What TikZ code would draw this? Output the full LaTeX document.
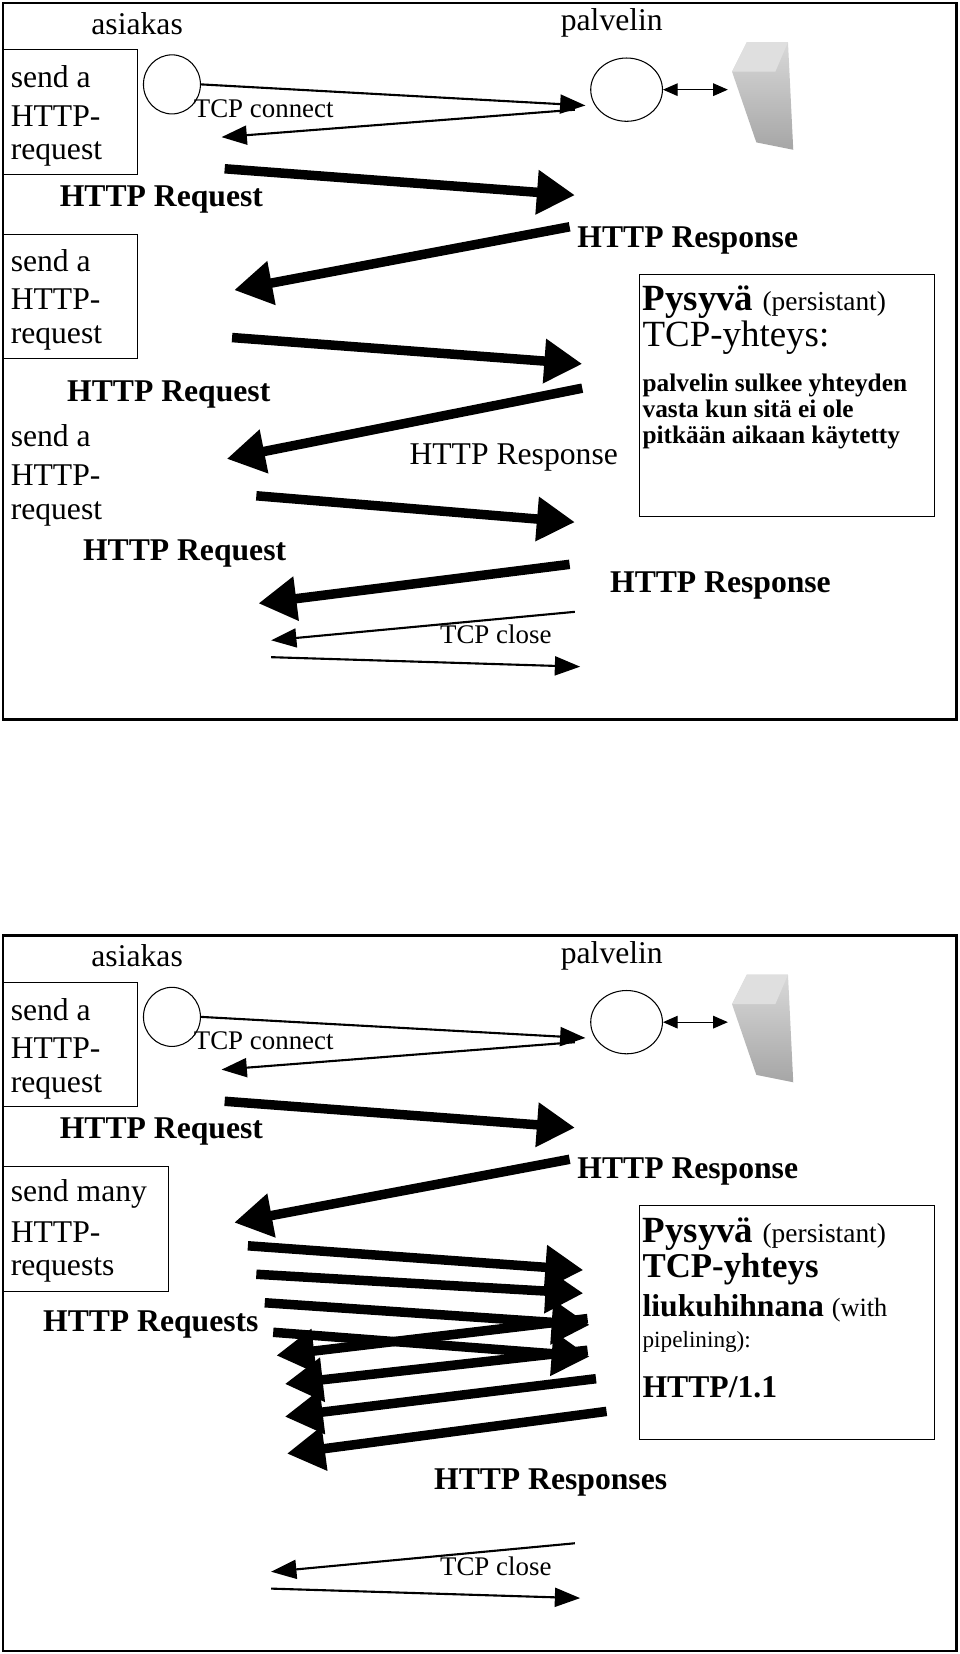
\documentclass[tikz,border=0pt]{standalone}
\usepackage{fontspec}
\setmainfont{Liberation Serif}
\usetikzlibrary{arrows.meta,shapes.geometric}
\begin{document}
\begin{tikzpicture}[x=1pt,y=-1pt,
  frame/.style={line width=2.5pt},
  thk/.style={line width=9pt,-{Triangle[length=36pt,width=40pt]}},
  thn/.style={line width=2pt,-{Triangle[length=24pt,width=18pt]}},
  lbl/.style={font=\fontsize{30}{34}\selectfont,inner sep=0pt},
  blbl/.style={font=\fontsize{30}{34}\selectfont\bfseries,inner sep=0pt},
  sm/.style={font=\fontsize{25.5}{30}\selectfont,inner sep=0pt},
  ln/.style={font=\fontsize{30}{34}\selectfont,inner sep=0pt,anchor=west},
  box/.style={line width=1pt}]
\useasboundingbox (0,0) rectangle (910,1568);
\fill[white] (0,0) rectangle (910,1568);
% ===== TOP PANEL =====
\draw[frame] (3,3) rectangle (907,682);
\node[lbl] (as1) at (130,22) {asiakas};
\node[lbl] (pv1) at (580,22) {palvelin};
\node[draw,ellipse,minimum width=54pt,minimum height=56pt,line width=1pt] (c1) at (163,80) {};
\node[draw,ellipse,minimum width=68pt,minimum height=60pt,line width=1pt] (s1) at (594,85) {};
\shade[top color=gray!30,bottom color=gray!70] (694,68) -- (708,40) -- (747,40) -- (752,142) -- (717,135) -- cycle;
\fill[gray!25] (694,68) -- (708,40) -- (747,40) -- (735,68) -- cycle;
\coordinate (srv1) at (690,85);
\coordinate (in1) at (555,100);
\draw[line width=1pt,{Triangle[length=14pt,width=12pt]}-{Triangle[length=14pt,width=12pt]}] (s1.east) -- (srv1);
\draw[box] (3,47) rectangle (130,165);
\node[ln] at (10,73) {send a};
\node[ln] at (10,110) {HTTP-};
\node[ln] at (10,146) {request};
\draw[box] (3,222) rectangle (130,340);
\node[ln] at (10,247) {send a};
\node[ln] at (10,284) {HTTP-};
\node[ln] at (10,320) {request};
\node[ln] at (10,413) {send a};
\node[ln] at (10,450) {HTTP-};
\node[ln] at (10,487) {request};
\draw[thn] (c1.east) -- (in1);
\draw[thn] (545,104) -- (210,130);
\node[sm] at (250,103) {TCP connect};
\draw[thk] (213,160) -- (545,185);
\node[blbl] at (153,189) {HTTP Request};
\node[blbl] at (652,228) {HTTP Response};
\draw[thk] (540,215) -- (222,275);
\draw[box] (606,260) rectangle (886,490);
\node[anchor=west,inner sep=0pt] at (609,286) {\fontsize{35}{38}\selectfont\bfseries Pysyvä \fontsize{26}{30}\mdseries\selectfont(persistant)};
\node[anchor=west,inner sep=0pt,font=\fontsize{35}{38}\selectfont] at (609,320) {TCP-yhteys:};
\node[anchor=west,inner sep=0pt,font=\fontsize{24}{25}\selectfont\bfseries,align=left] at (609,390) {palvelin sulkee yhteyden\\vasta kun sitä ei ole\\pitkään aikaan käytetty};
\draw[thk] (220,320) -- (552,345);
\node[blbl] at (160,374) {HTTP Request};
\draw[thk] (552,368) -- (215,435);
\node[lbl] at (487,434) {HTTP Response};
\draw[thk] (243,470) -- (545,495);
\node[blbl] at (175,525) {HTTP Request};
\draw[thk] (540,535) -- (245,572);
\node[blbl] at (683,555) {HTTP Response};
\draw[thn] (545,580) -- (257,607);
\node[sm] at (470,601) {TCP close};
\draw[thn] (257,623) -- (550,632);
% ===== BOTTOM PANEL =====
\draw[frame] (3,887) rectangle (907,1565);
\node[lbl] (as2) at (130,906) {asiakas};
\node[lbl] (pv2) at (580,906) {palvelin};
\node[draw,ellipse,minimum width=54pt,minimum height=56pt,line width=1pt] (c2) at (163,964) {};
\node[draw,ellipse,minimum width=68pt,minimum height=60pt,line width=1pt] (s2) at (594,969) {};
\shade[top color=gray!30,bottom color=gray!70] (694,952) -- (708,924) -- (747,924) -- (752,1026) -- (717,1019) -- cycle;
\fill[gray!25] (694,952) -- (708,924) -- (747,924) -- (735,952) -- cycle;
\coordinate (srv2) at (690,969);
\coordinate (in2) at (555,984);
\draw[line width=1pt,{Triangle[length=14pt,width=12pt]}-{Triangle[length=14pt,width=12pt]}] (s2.east) -- (srv2);
\draw[box] (3,931) rectangle (130,1049);
\node[ln] at (10,957) {send a};
\node[ln] at (10,994) {HTTP-};
\node[ln] at (10,1030) {request};
\draw[thn] (c2.east) -- (in2);
\draw[thn] (545,988) -- (210,1014);
\node[sm] at (250,987) {TCP connect};
\draw[thk] (213,1044) -- (545,1069);
\node[blbl] at (153,1073) {HTTP Request};
\node[blbl] at (652,1111) {HTTP Response};
\draw[thk] (540,1099) -- (222,1159);
\draw[box] (3,1106) rectangle (160,1224);
\node[ln] at (10,1132) {send many};
\node[ln] at (10,1168) {HTTP-};
\node[ln] at (10,1204) {requests};
\node[blbl] at (143,1256) {HTTP Requests};
\draw[thk] (235,1181) -- (553,1204);
\draw[thk] (243,1208) -- (553,1226);
\draw[thk] (251,1235) -- (559,1256);
\draw[thk] (259,1263) -- (559,1286);
\draw[thk] (557,1250) -- (262,1285);
\draw[thk] (557,1280) -- (270,1312);
\draw[thk] (565,1307) -- (270,1343);
\draw[thk] (575,1338) -- (272,1378);
\draw[box] (606,1143) rectangle (886,1365);
\node[anchor=west,inner sep=0pt] at (609,1170) {\fontsize{35}{38}\selectfont\bfseries Pysyvä \fontsize{26}{30}\mdseries\selectfont(persistant)};
\node[anchor=west,inner sep=0pt,font=\fontsize{33}{36}\selectfont\bfseries] at (609,1203) {TCP-yhteys};
\node[anchor=west,inner sep=0pt] at (609,1240) {\fontsize{30}{34}\selectfont\bfseries liukuhihnana \fontsize{25}{30}\mdseries\selectfont(with};
\node[anchor=west,inner sep=0pt,font=\fontsize{22}{26}\selectfont] at (609,1272) {pipelining):};
\node[anchor=west,inner sep=0pt,font=\fontsize{30}{34}\selectfont\bfseries] at (609,1315) {HTTP/1.1};
\node[blbl] at (522,1405) {HTTP Responses};
\draw[thn] (545,1463) -- (257,1490);
\node[sm] at (470,1485) {TCP close};
\draw[thn] (257,1506) -- (550,1515);
\end{tikzpicture}
\end{document}
